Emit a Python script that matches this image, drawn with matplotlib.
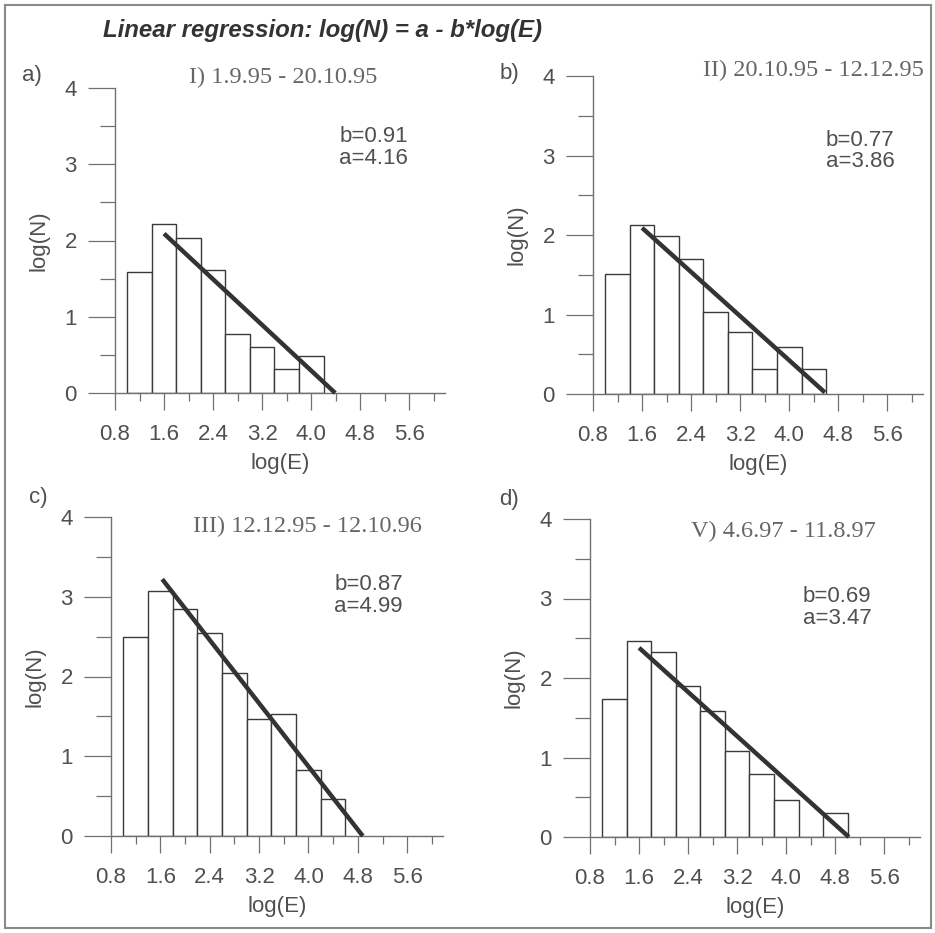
import numpy as np
import matplotlib
matplotlib.use("Agg")
import matplotlib.pyplot as plt
from matplotlib.patches import Rectangle
from matplotlib.ticker import MultipleLocator

plt.rcParams['font.family'] = ['Liberation Sans', 'DejaVu Sans']

# bin centres (log E), bin width 0.4
centers_a = [1.2, 1.6, 2.0, 2.4, 2.8, 3.2, 3.6, 4.0]
heights_a = [1.59, 2.22, 2.03, 1.61, 0.78, 0.60, 0.31, 0.48]
centers_b = [1.2, 1.6, 2.0, 2.4, 2.8, 3.2, 3.6, 4.0, 4.4]
heights_b = [1.51, 2.13, 1.99, 1.70, 1.03, 0.78, 0.31, 0.59, 0.31]
centers_c = [1.2, 1.6, 2.0, 2.4, 2.8, 3.2, 3.6, 4.0, 4.4]
heights_c = [2.50, 3.07, 2.85, 2.54, 2.05, 1.47, 1.53, 0.83, 0.47]
centers_d = [1.2, 1.6, 2.0, 2.4, 2.8, 3.2, 3.6, 4.0, 4.4, 4.8]
heights_d = [1.73, 2.47, 2.33, 1.90, 1.58, 1.08, 0.79, 0.47, 0.0, 0.30]

# regression line end points as drawn
fit_a = ([1.60, 4.39], [2.09, 0.0])
fit_b = ([1.60, 4.58], [2.09, 0.02])
fit_c = ([1.63, 4.88], [3.22, 0.0])
fit_d = ([1.60, 5.02], [2.38, 0.0])

coef_b = ["0.91", "0.77", "0.87", "0.69"]
coef_a = ["4.16", "3.86", "4.99", "3.47"]
periods = ["I) 1.9.95 - 20.10.95", "II) 20.10.95 - 12.12.95",
           "III) 12.12.95 - 12.10.96", "V) 4.6.97 - 11.8.97"]
letters = ["a)", "b)", "c)", "d)"]
xticks = [0.8, 1.6, 2.4, 3.2, 4.0, 4.8, 5.6]

W, H = 935, 933
TXT = '#505050'
AX = '#707070'
FS = 16


def draw_panel(rect, centers, heights, fit, i, period_pos, coef_pos):
    ax = fig.add_axes(rect)
    ax.bar(centers, heights, width=0.4, color='white', edgecolor='#3a3a3a',
           linewidth=1.0, zorder=2)
    ax.plot(fit[0], fit[1], color='#333333', linewidth=3.2, zorder=3,
            clip_on=False, solid_capstyle='butt')
    ax.set_xlim(0.8, 6.18)
    ax.set_ylim(0, 4)
    for s in ['top', 'right']:
        ax.spines[s].set_visible(False)
    for s in ['left', 'bottom']:
        ax.spines[s].set_color(AX)
        ax.spines[s].set_linewidth(1.0)
    ax.set_xticks(xticks)
    ax.set_xticklabels([f"{v:.1f}" for v in xticks])
    ax.xaxis.set_minor_locator(MultipleLocator(0.4))
    ax.set_yticks([0, 1, 2, 3, 4])
    ax.yaxis.set_minor_locator(MultipleLocator(0.5))
    ax.tick_params(axis='x', which='major', length=12, width=0.9, color=AX,
                   labelsize=FS, labelcolor=TXT, pad=10)
    ax.tick_params(axis='x', which='minor', length=6, width=0.9, color=AX)
    ax.tick_params(axis='y', which='major', length=19.5, width=0.9, color=AX,
                   labelsize=FS, labelcolor=TXT, pad=8)
    ax.tick_params(axis='y', which='minor', length=11, width=0.9, color=AX)
    ax.set_xlabel('log(E)', fontsize=FS, color=TXT, labelpad=6)
    ax.set_ylabel('log(N)', fontsize=FS, color=TXT, labelpad=11)
    ax.text(period_pos[0], period_pos[1], periods[i], transform=ax.transAxes,
            ha='center', va='center', fontsize=17.5, color='#666666',
            family=['Liberation Serif', 'DejaVu Serif'])
    ax.text(coef_pos[0], coef_pos[1], f"b={coef_b[i]}\na={coef_a[i]}",
            transform=ax.transAxes, ha='left', va='center', fontsize=FS,
            color=TXT, linespacing=1.05)
    ax.patch.set_alpha(0)
    return ax


fig = plt.figure(figsize=(W / 100, H / 100), dpi=100)

def frac(left, right, bottom, top):
    return [left / W, 1 - bottom / H, (right - left) / W, (bottom - top) / H]

draw_panel(frac(115, 445, 393, 88), centers_a, heights_a, fit_a, 0,
           (0.51, 1.036), (0.68, 0.805))
draw_panel(frac(593, 923, 394, 76), centers_b, heights_b, fit_b, 1,
           (0.667, 1.016), (0.706, 0.764))
draw_panel(frac(111, 443, 836, 517), centers_c, heights_c, fit_c, 2,
           (0.593, 0.969), (0.672, 0.754))
draw_panel(frac(590, 920, 837, 519), centers_d, heights_d, fit_d, 3,
           (0.585, 0.962), (0.645, 0.722))

fig.text(103 / W, 1 - 31 / H, 'Linear regression: log(N) = a - b*log(E)',
         fontsize=17.3, fontweight='bold', fontstyle='italic', color='#333333',
         ha='left', va='center')
for lab, (x, y) in zip(letters, [(32, 75), (509, 73), (38, 497), (509, 500)]):
    fig.text(x / W, 1 - y / H, lab, fontsize=FS, color=TXT, ha='center', va='center')

fig.patches.append(Rectangle((5 / W, 5 / H), 926 / W, 923 / H, transform=fig.transFigure,
                             fill=False, edgecolor='#8a8a8a', linewidth=1.5))

fig.savefig('out.png', dpi=100)
